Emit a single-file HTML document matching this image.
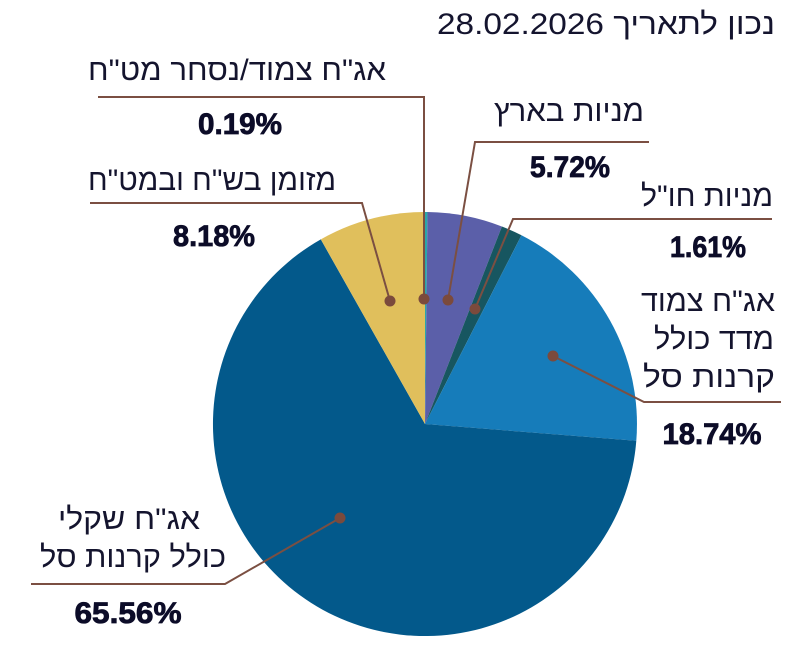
<!DOCTYPE html>
<html><head><meta charset="utf-8"><style>
html,body{margin:0;padding:0;background:#fff;}
svg{display:block;}
.h{font-family:"Liberation Sans","Noto Sans CJK SC",sans-serif;font-size:30px;fill:#14142e;}
.p{font-family:"Liberation Sans",sans-serif;font-size:30px;font-weight:bold;fill:#0c0c28;stroke:#0c0c28;stroke-width:0.8;}
</style></head><body>
<svg width="808" height="664" viewBox="0 0 808 664" xmlns="http://www.w3.org/2000/svg">
<g>
<path d="M425,424 L425,212 A212,212 0 0 1 427.5,212 Z" fill="#2aa7a8"/>
<path d="M425,424 L427.5,212 A212,212 0 0 1 501.9,226.5 Z" fill="#5b5fa9"/>
<path d="M425,424 L501.9,226.5 A212,212 0 0 1 521.5,235.2 Z" fill="#175660"/>
<path d="M425,424 L521.5,235.2 A212,212 0 0 1 636.3,440.8 Z" fill="#167cba"/>
<path d="M425,424 L636.3,440.8 A212,212 0 1 1 320.8,239.4 Z" fill="#03598b"/>
<path d="M425,424 L320.8,239.4 A212,212 0 0 1 425,212 Z" fill="#e0bf5c"/>
</g>
<g stroke="#7b4f42" stroke-width="2" fill="none">
<polyline points="424,299 424,97 98,97"/>
<polyline points="390,301 362,203 90,203"/>
<polyline points="448,300 475,142 649,142"/>
<polyline points="475,309 513,219 772,219"/>
<polyline points="553,356 644,402 781,402"/>
<polyline points="340,518 225,584 31,584"/>
</g>
<g fill="#7b4a3c">
<circle cx="424" cy="299" r="5.5"/>
<circle cx="390" cy="301" r="5.5"/>
<circle cx="448" cy="300" r="5.5"/>
<circle cx="475" cy="309" r="5.5"/>
<circle cx="553" cy="356" r="5.5"/>
<circle cx="340" cy="518" r="5.5"/>
</g>
<text class="h" x="606" y="34" text-anchor="middle" textLength="338" lengthAdjust="spacingAndGlyphs">נכון לתאריך 28.02.2026</text>
<text class="h" x="237" y="80" text-anchor="middle" textLength="298" lengthAdjust="spacingAndGlyphs">אג"ח צמוד/נסחר מט"ח</text>
<text class="p" x="240" y="134" text-anchor="middle" textLength="84" lengthAdjust="spacingAndGlyphs">0.19%</text>
<text class="h" x="212" y="190" text-anchor="middle" textLength="248" lengthAdjust="spacingAndGlyphs">מזומן בש"ח ובמט"ח</text>
<text class="p" x="214" y="246" text-anchor="middle" textLength="82" lengthAdjust="spacingAndGlyphs">8.18%</text>
<text class="h" x="569" y="121" text-anchor="middle" textLength="150" lengthAdjust="spacingAndGlyphs">מניות בארץ</text>
<text class="p" x="570" y="177" text-anchor="middle" textLength="80" lengthAdjust="spacingAndGlyphs">5.72%</text>
<text class="h" x="707" y="206" text-anchor="middle" textLength="132" lengthAdjust="spacingAndGlyphs">מניות חו"ל</text>
<text class="p" x="708" y="257" text-anchor="middle" textLength="76" lengthAdjust="spacingAndGlyphs">1.61%</text>
<text class="h" x="708" y="311" text-anchor="middle" textLength="134" lengthAdjust="spacingAndGlyphs">אג"ח צמוד</text>
<text class="h" x="714" y="349" text-anchor="middle" textLength="120" lengthAdjust="spacingAndGlyphs">מדד כולל</text>
<text class="h" x="709" y="387" text-anchor="middle" textLength="132" lengthAdjust="spacingAndGlyphs">קרנות סל</text>
<text class="p" x="712" y="444" text-anchor="middle" textLength="99" lengthAdjust="spacingAndGlyphs">18.74%</text>
<text class="h" x="129" y="529" text-anchor="middle" textLength="142" lengthAdjust="spacingAndGlyphs">אג"ח שקלי</text>
<text class="h" x="133" y="567" text-anchor="middle" textLength="186" lengthAdjust="spacingAndGlyphs">כולל קרנות סל</text>
<text class="p" x="128" y="623" text-anchor="middle" textLength="107" lengthAdjust="spacingAndGlyphs">65.56%</text>
</svg>
</body></html>
